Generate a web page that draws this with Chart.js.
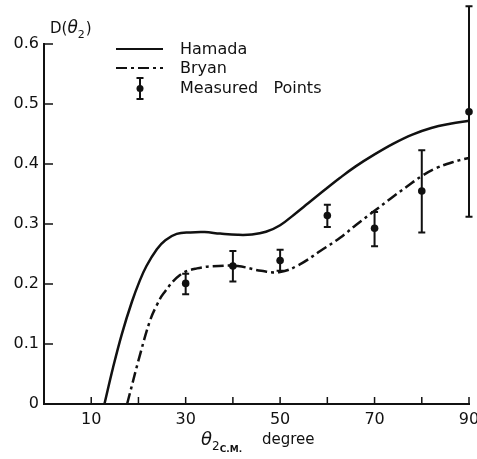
<!DOCTYPE html>
<html>
<head>
<meta charset="utf-8">
<script src="https://cdn.jsdelivr.net/npm/chart.js@4/dist/chart.umd.min.js"></script>
<style>
  html, body { margin: 0; padding: 0; background: #fff; }
  #wrap { width: 477px; height: 459px; }
</style>
</head>
<body>
<div id="wrap"><canvas id="c" width="477" height="459"></canvas></div>
<script>
// curvas teóricas D(theta2)
const hamadaX = [12.8, 14.6, 16.5, 18.6, 20.2, 21.7, 23.9, 25.7, 28.1, 31, 34, 37.3, 41, 44, 47, 50, 53, 56, 59, 62.7, 66, 70, 74, 78, 82, 86, 90, 91.7];
const hamadaY = [0, 0.06, 0.117, 0.17, 0.204, 0.23, 0.258, 0.273, 0.2835, 0.286, 0.2865, 0.284, 0.282, 0.2825, 0.287, 0.298, 0.316, 0.335, 0.354, 0.377, 0.396, 0.416, 0.434, 0.449, 0.46, 0.467, 0.472, 0.474];

const bryanX = [17.6, 20.4, 22.5, 23.9, 25.3, 28.8, 32.4, 37, 41, 46, 50, 54, 58.5, 62.7, 66, 70, 73.5, 76.8, 80, 83, 86.5, 90, 91.7];
const bryanY = [0, 0.084, 0.14, 0.165, 0.184, 0.215, 0.226, 0.23, 0.23, 0.222, 0.22, 0.232, 0.255, 0.277, 0.298, 0.322, 0.343, 0.362, 0.38, 0.393, 0.403, 0.41, 0.412];

// puntos medidos con barras de error
const measX = [30, 40, 50, 60, 70, 80, 90];
const measY = [0.201, 0.230, 0.239, 0.314, 0.293, 0.355, 0.487];
const errLow = [0.183, 0.204, 0.222, 0.295, 0.263, 0.286, 0.312];
const errHigh = [0.217, 0.255, 0.257, 0.332, 0.320, 0.423, 0.663];

const xTickLabels = ['10', '30', '50', '70', '90'];

const FONT = 'DejaVu Sans';
const INK = '#111';

const toPts = (xs, ys) => xs.map((x, i) => ({ x: x, y: ys[i] }));

// barras de error, marcas hacia dentro, leyenda y títulos
const decor = {
    id: 'decor',
    afterDatasetsDraw(chart) {
        const ctx = chart.ctx;
        const xs = chart.scales.x;
        const ys = chart.scales.y;
        const area = chart.chartArea;
        ctx.save();
        ctx.strokeStyle = INK;
        ctx.fillStyle = INK;

        // error bars
        ctx.lineWidth = 2;
        measX.forEach((v, i) => {
            const px = xs.getPixelForValue(v);
            const top = ys.getPixelForValue(errHigh[i]);
            const bot = ys.getPixelForValue(errLow[i]);
            ctx.beginPath();
            ctx.moveTo(px, top); ctx.lineTo(px, bot);
            ctx.moveTo(px - 3.5, top); ctx.lineTo(px + 3.5, top);
            ctx.moveTo(px - 3.5, bot); ctx.lineTo(px + 3.5, bot);
            ctx.stroke();
        });

        // inward ticks
        ctx.lineWidth = 1.5;
        xs.ticks.forEach(t => {
            if (t.value <= 0) return;
            const px = xs.getPixelForValue(t.value);
            ctx.beginPath();
            ctx.moveTo(px, area.bottom); ctx.lineTo(px, area.bottom - 7);
            ctx.stroke();
        });
        ys.ticks.forEach(t => {
            if (t.value <= 0) return;
            const py = ys.getPixelForValue(t.value);
            ctx.beginPath();
            ctx.moveTo(area.left, py); ctx.lineTo(area.left + 9, py);
            ctx.stroke();
        });

        // legend
        ctx.lineWidth = 2.2;
        ctx.beginPath();
        ctx.moveTo(116, 49); ctx.lineTo(163, 49);
        ctx.stroke();
        ctx.setLineDash([11, 4, 3, 4]);
        ctx.beginPath();
        ctx.moveTo(116, 68); ctx.lineTo(163, 68);
        ctx.stroke();
        ctx.setLineDash([]);
        ctx.lineWidth = 2;
        ctx.beginPath();
        ctx.moveTo(140, 78); ctx.lineTo(140, 99);
        ctx.moveTo(136.5, 78); ctx.lineTo(143.5, 78);
        ctx.moveTo(136.5, 99); ctx.lineTo(143.5, 99);
        ctx.stroke();
        ctx.beginPath();
        ctx.arc(140, 88.5, 3.5, 0, Math.PI * 2);
        ctx.fill();

        ctx.font = '16px "' + FONT + '"';
        ctx.textBaseline = 'middle';
        ctx.textAlign = 'left';
        ctx.fillText('Hamada', 180, 50);
        ctx.fillText('Bryan', 180, 69);
        ctx.fillText('Measured   Points', 180, 89);

        // y title D(θ2)
        ctx.textBaseline = 'alphabetic';
        let x = 50;
        ctx.font = '15px "' + FONT + '"';
        ctx.fillText('D(', x, 33);
        x += ctx.measureText('D(').width;
        ctx.font = 'italic 17px "' + FONT + '"';
        ctx.fillText('θ', x, 33);
        x += ctx.measureText('θ').width;
        ctx.font = '11px "' + FONT + '"';
        ctx.fillText('2', x, 38);
        x += ctx.measureText('2').width + 1;
        ctx.font = '15px "' + FONT + '"';
        ctx.fillText(')', x, 33);

        // x title θ2 C.M. degree
        x = 201;
        ctx.font = 'italic 18px "' + FONT + '"';
        ctx.fillText('θ', x, 445);
        x += ctx.measureText('θ').width;
        ctx.font = '12px "' + FONT + '"';
        ctx.fillText('2', x, 450);
        x += ctx.measureText('2').width;
        ctx.font = 'bold 9px "' + FONT + '"';
        ctx.fillText('C.M.', x, 452);
        ctx.font = '15px "' + FONT + '"';
        ctx.fillText('degree', 262, 444);

        ctx.restore();
    }
};

const ctx = document.getElementById('c').getContext('2d');

new Chart(ctx, {
    type: 'scatter',
    data: {
        datasets: [
            {
                label: 'Hamada',
                data: toPts(hamadaX, hamadaY),
                showLine: true,
                borderColor: INK,
                borderWidth: 2.5,
                pointRadius: 0,
                tension: 0.4,
                clip: false
            },
            {
                label: 'Bryan',
                data: toPts(bryanX, bryanY),
                showLine: true,
                borderColor: INK,
                borderWidth: 2.5,
                borderDash: [11, 4, 3, 4],
                pointRadius: 0,
                tension: 0.4,
                clip: false
            },
            {
                label: 'Measured Points',
                data: toPts(measX, measY),
                showLine: false,
                pointRadius: 3.8,
                pointBackgroundColor: INK,
                pointBorderWidth: 0,
                clip: false
            }
        ]
    },
    options: {
        responsive: false,
        animation: false,
        layout: {
            autoPadding: false,
            padding: { top: 44, right: 8, left: 0, bottom: 0 }
        },
        plugins: {
            legend: { display: false },
            tooltip: { enabled: false }
        },
        scales: {
            x: {
                type: 'linear',
                min: 0,
                max: 90,
                grid: { display: false, drawTicks: false },
                border: { display: true, color: INK, width: 2 },
                ticks: {
                    stepSize: 10,
                    padding: 6,
                    color: INK,
                    font: { family: FONT, size: 16 },
                    maxRotation: 0,
                    autoSkip: false,
                    callback: v => xTickLabels.includes(String(v)) ? String(v) : ''
                },
                // el "90" puede salirse por la derecha como en el original
                afterFit: s => { s.height = 55; s.paddingLeft = 0; s.paddingRight = 0; }
            },
            y: {
                min: 0,
                max: 0.6,
                grid: { display: false, drawTicks: false },
                border: { display: true, color: INK, width: 2 },
                ticks: {
                    stepSize: 0.1,
                    padding: 5,
                    color: INK,
                    font: { family: FONT, size: 16 }
                },
                afterFit: s => { s.width = 44; s.paddingTop = 0; s.paddingBottom = 0; }
            }
        }
    },
    plugins: [decor]
});
</script>
</body>
</html>
